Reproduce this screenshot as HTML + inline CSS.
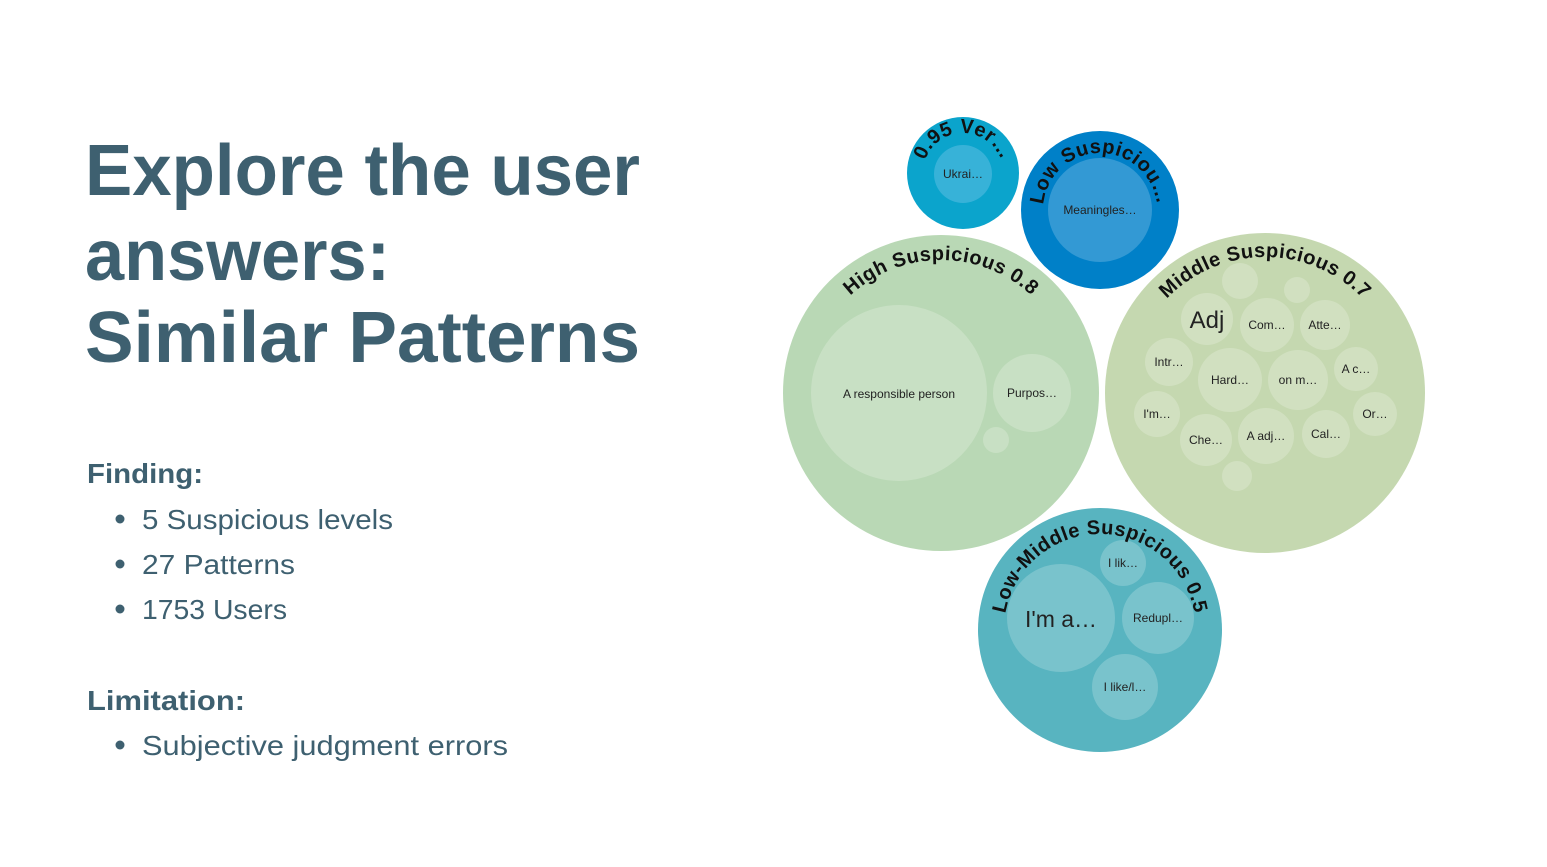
<!DOCTYPE html>
<html><head><meta charset="utf-8"><style>
html,body{margin:0;padding:0;background:#fff;width:1547px;height:867px;overflow:hidden}
svg{display:block}
.t{font-family:"Liberation Sans",sans-serif;fill:#3e6070}
.arc{font-family:"Liberation Sans",sans-serif;font-weight:bold;font-size:20px;fill:#111;letter-spacing:0.5px}
.s{font-family:"Liberation Sans",sans-serif;font-size:12px;fill:#222;text-anchor:middle}
</style></head><body>
<svg width="1547" height="867" viewBox="0 0 1547 867" xmlns="http://www.w3.org/2000/svg">
<defs>
<path id="pA" d="M963,213 A40,40 0 1 1 963,133 A40,40 0 1 1 963,213"/>
<path id="pB" d="M1100,267 A57,57 0 1 1 1100,153 A57,57 0 1 1 1100,267"/>
<path id="pC" d="M941,526 A133,133 0 1 1 941,260 A133,133 0 1 1 941,526"/>
<path id="pD" d="M1265,529 A136,136 0 1 1 1265,257 A136,136 0 1 1 1265,529"/>
<path id="pE" d="M1100,726 A96,96 0 1 1 1100,534 A96,96 0 1 1 1100,726"/>
</defs>

<text class="t" x="85" y="195" font-size="72" font-weight="bold" textLength="555" lengthAdjust="spacingAndGlyphs">Explore the user</text>
<text class="t" x="85" y="280" font-size="72" font-weight="bold" textLength="305" lengthAdjust="spacingAndGlyphs">answers:</text>
<text class="t" x="85" y="362" font-size="72" font-weight="bold" textLength="555" lengthAdjust="spacingAndGlyphs">Similar Patterns</text>

<text class="t" x="87" y="483" font-size="28" font-weight="bold" textLength="116" lengthAdjust="spacingAndGlyphs">Finding:</text>
<circle cx="120" cy="519" r="4.5" fill="#3e6070"/>
<text class="t" x="142" y="529" font-size="28" textLength="251" lengthAdjust="spacingAndGlyphs">5 Suspicious levels</text>
<circle cx="120" cy="564" r="4.5" fill="#3e6070"/>
<text class="t" x="142" y="574" font-size="28" textLength="153" lengthAdjust="spacingAndGlyphs">27 Patterns</text>
<circle cx="120" cy="609" r="4.5" fill="#3e6070"/>
<text class="t" x="142" y="619" font-size="28" textLength="145" lengthAdjust="spacingAndGlyphs">1753 Users</text>
<text class="t" x="87" y="710" font-size="28" font-weight="bold" textLength="158" lengthAdjust="spacingAndGlyphs">Limitation:</text>
<circle cx="120" cy="745" r="4.5" fill="#3e6070"/>
<text class="t" x="142" y="755" font-size="28" textLength="366" lengthAdjust="spacingAndGlyphs">Subjective judgment errors</text>

<circle cx="963" cy="173" r="56" fill="#0ba4cc"/>
<circle cx="963" cy="174" r="29" fill="#37b2d8"/>
<text class="s" x="963" y="178">Ukrai…</text>
<text class="arc"><textPath href="#pA" startOffset="50%" text-anchor="middle">0.95 Ver…</textPath></text>

<circle cx="1100" cy="210" r="79" fill="#0080c8"/>
<circle cx="1100" cy="210" r="52" fill="#3399d4"/>
<text class="s" x="1100" y="214">Meaningles…</text>
<text class="arc"><textPath href="#pB" startOffset="50%" text-anchor="middle">Low Suspiciou…</textPath></text>

<circle cx="941" cy="393" r="158" fill="#b9d8b5"/>
<circle cx="899" cy="393" r="88" fill="#c8e0c4"/>
<circle cx="1032" cy="393" r="39" fill="#c8e0c4"/>
<circle cx="996" cy="440" r="13" fill="#c8e0c4"/>
<text class="s" x="899" y="398">A responsible person</text>
<text class="s" x="1032" y="397">Purpos…</text>
<text class="arc"><textPath href="#pC" startOffset="50%" text-anchor="middle">High Suspicious 0.8</textPath></text>

<circle cx="1265" cy="393" r="160" fill="#c5d8b0"/>
<g fill="#d1e0c0">
<circle cx="1240" cy="281" r="18"/><circle cx="1297" cy="290" r="13"/>
<circle cx="1207" cy="319" r="26"/><circle cx="1267" cy="325" r="27"/><circle cx="1325" cy="325" r="25"/>
<circle cx="1169" cy="362" r="24"/><circle cx="1230" cy="380" r="32"/><circle cx="1298" cy="380" r="30"/><circle cx="1356" cy="369" r="22"/>
<circle cx="1157" cy="414" r="23"/><circle cx="1206" cy="440" r="26"/><circle cx="1266" cy="436" r="28"/><circle cx="1326" cy="434" r="24"/><circle cx="1375" cy="414" r="22"/>
<circle cx="1237" cy="476" r="15"/>
</g>
<text class="s" x="1207" y="328" style="font-size:24px">Adj</text>
<text class="s" x="1267" y="329">Com…</text>
<text class="s" x="1325" y="329">Atte…</text>
<text class="s" x="1169" y="366">Intr…</text>
<text class="s" x="1230" y="384">Hard…</text>
<text class="s" x="1298" y="384">on m…</text>
<text class="s" x="1356" y="373">A c…</text>
<text class="s" x="1157" y="418">I'm…</text>
<text class="s" x="1206" y="444">Che…</text>
<text class="s" x="1266" y="440">A adj…</text>
<text class="s" x="1326" y="438">Cal…</text>
<text class="s" x="1375" y="418">Or…</text>
<text class="arc"><textPath href="#pD" startOffset="50%" text-anchor="middle">Middle Suspicious 0.7</textPath></text>

<circle cx="1100" cy="630" r="122" fill="#58b4c0"/>
<g fill="#79c3cc">
<circle cx="1061" cy="618" r="54"/><circle cx="1123" cy="563" r="23"/><circle cx="1158" cy="618" r="36"/><circle cx="1125" cy="687" r="33"/>
</g>
<text class="s" x="1061" y="627" style="font-size:23px">I'm a…</text>
<text class="s" x="1123" y="567">I lik…</text>
<text class="s" x="1158" y="622">Redupl…</text>
<text class="s" x="1125" y="691">I like/l…</text>
<text class="arc"><textPath href="#pE" startOffset="50%" text-anchor="middle">Low-Middle Suspicious 0.5</textPath></text>
</svg>
</body></html>
